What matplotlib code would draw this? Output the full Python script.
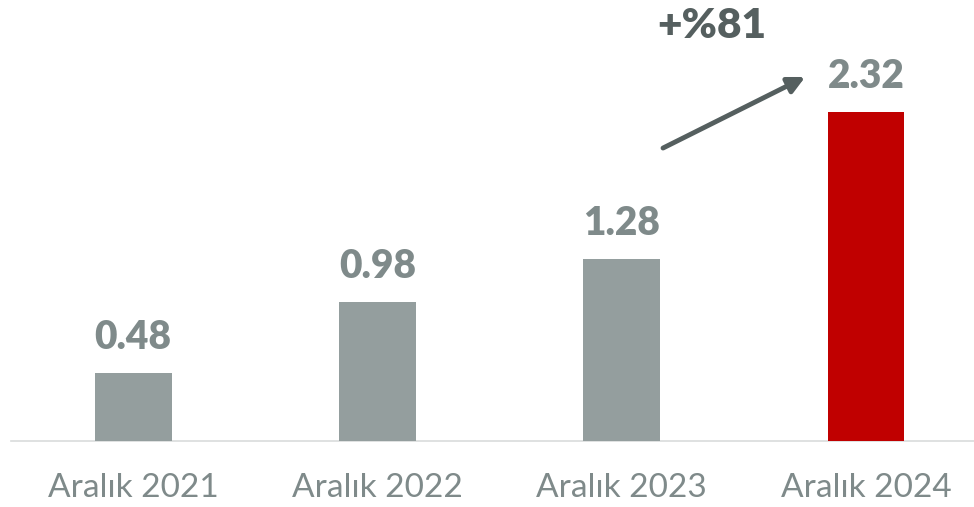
import matplotlib
matplotlib.use('Agg')
import matplotlib.pyplot as plt

# data
categories = ['Aralık 2021', 'Aralık 2022', 'Aralık 2023', 'Aralık 2024']
values = [0.48, 0.98, 1.28, 2.32]
bar_colors = ['#949e9e', '#949e9e', '#949e9e', '#c00000']
growth_label = '+%81'

plt.rcParams['font.family'] = ['Lato', 'DejaVu Sans']

fig = plt.figure(figsize=(9.74, 5.07), dpi=100)
ax = fig.add_axes([11 / 974, 66 / 507, 1 - 11 / 974, 441 / 507])

x = list(range(len(categories)))
ax.bar(x, values, width=0.315, color=bar_colors, zorder=3)

for xi, v in zip(x, values):
    ax.text(xi, v + 0.12, '%.2f' % v, ha='center', va='bottom',
            fontsize=28, fontweight='heavy', color='#7f8a8a')

ax.annotate('', xy=(2.751, 2.567), xytext=(2.169, 2.066),
            arrowprops=dict(arrowstyle='-|>,head_length=1.0,head_width=0.5',
                            color='#555f5f', lw=3.5, shrinkA=0, shrinkB=0))
ax.text(2.37, 2.93, growth_label, ha='center', va='center',
        fontsize=30.5, fontweight='heavy', color='#555f5f')

ax.set_xlim(-0.5, 3.442)
ax.set_ylim(0, 3.11)
ax.set_xticks(x)
ax.set_xticklabels(categories, fontsize=24, color='#7f8a8a')
ax.tick_params(axis='x', length=0, pad=23)
ax.set_yticks([])
for s in ['top', 'right', 'left']:
    ax.spines[s].set_visible(False)
ax.spines['bottom'].set_color('#d9dcdc')
ax.spines['bottom'].set_linewidth(1.2)

fig.savefig('out.png', dpi=100)
